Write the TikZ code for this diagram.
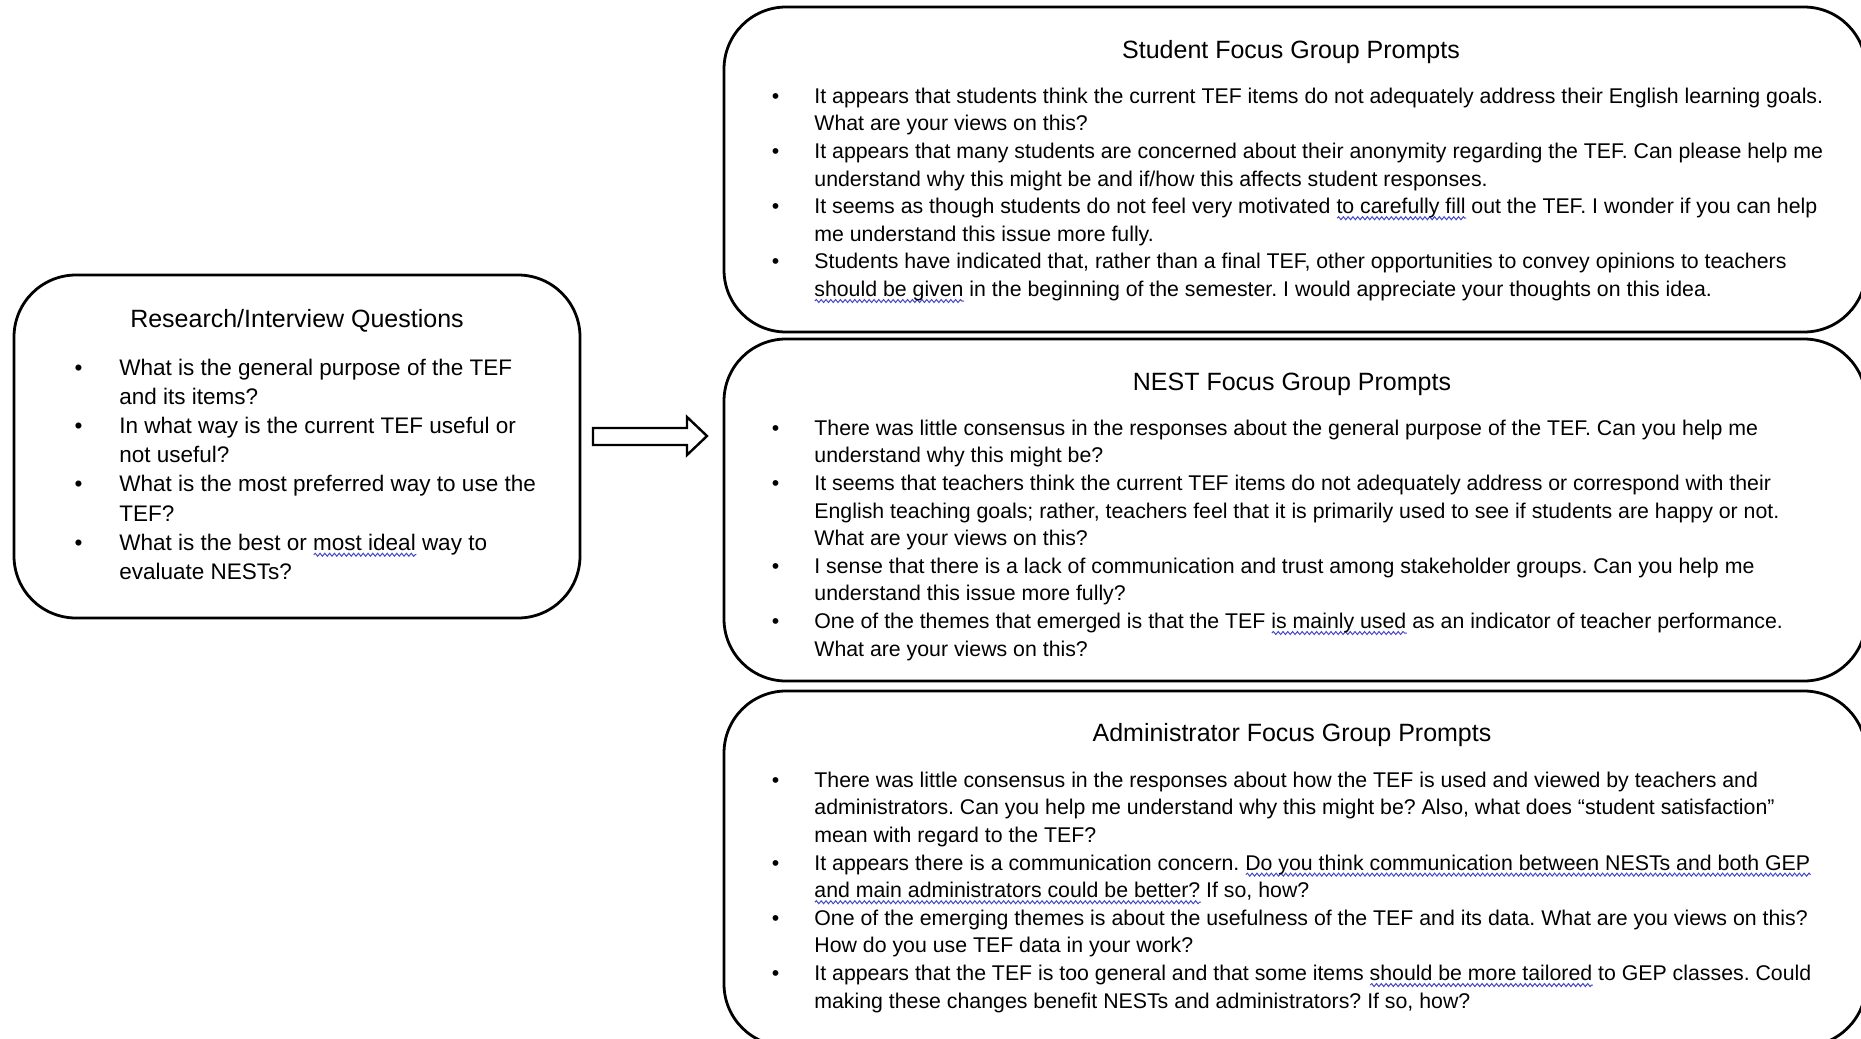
\documentclass[tikz,border=0pt]{standalone}
\usepackage{fontspec}
\setmainfont{Liberation Sans}
\usetikzlibrary{decorations.pathmorphing}
\definecolor{sqblue}{RGB}{70,70,200}
\tikzset{
  box/.style={draw, line width=1.4pt, rounded corners=31pt, inner sep=0pt},
  ttl/.style={anchor=base, inner sep=0pt, font=\fontsize{12.5}{15}\selectfont},
  rlist/.style={anchor=north west, inner sep=0pt, align=left, font=\fontsize{10.65}{13.8}\selectfont\frenchspacing},
  llist/.style={anchor=north west, inner sep=0pt, align=left, font=\fontsize{11.25}{14.57}\selectfont\frenchspacing},
  squigline/.style={draw=sqblue, line width=0.5pt, decorate, decoration={snake, amplitude=0.75pt, segment length=2.4pt}},
  blockarrow/.style={draw, line width=1.2pt, line join=miter},
}
\newlength\sqlen
\newcommand\squig[1]{\settowidth\sqlen{#1}\rlap{\tikz[baseline=0pt]\draw[squigline] (0pt,-2.3pt) -- (\sqlen,-2.3pt);}#1}
\newcommand\lb{\llap{\textbullet\hspace{18.5pt}}}
\newcommand\rb{\llap{\textbullet\hspace{17.6pt}}}
\begin{document}
\begin{tikzpicture}[x=0.5pt,y=-0.5pt]
\useasboundingbox (0,0) rectangle (1861,1038);
\clip (0,0) rectangle (1861,1038);
% boxes
\node[box, minimum width=283pt, minimum height=171.5pt] (lbox) at (297,446.5) {};
\node[box, minimum width=571pt, minimum height=162.5pt] (sbox) at (1295,169.5) {};
\node[box, minimum width=571pt, minimum height=171pt] (nbox) at (1295,510) {};
\node[box, minimum width=571pt, minimum height=177.5pt] (abox) at (1295,868.5) {};
% arrow
\draw[blockarrow] (593,428) -- (687,428) -- (687,417) -- (707,436) -- (687,455) -- (687,445) -- (593,445) -- cycle;
% titles
\node[ttl] (lt) at (297,327.5) {Research/Interview Questions};
\node[ttl] (st) at (1291,58.5) {Student Focus Group Prompts};
\node[ttl] (nt) at (1292,390.5) {NEST Focus Group Prompts};
\node[ttl] (at) at (1292,741.5) {Administrator Focus Group Prompts};
% lists
\node[llist] (lq) at (119,354.5) {\strut\lb What is the general purpose of the TEF\\
and its items?\\
\lb In what way is the current TEF useful or\\
not useful?\\
\lb What is the most preferred way to use the\\
TEF?\\
\lb What is the best or \squig{most ideal} way to\\
evaluate NESTs?};
\node[rlist] (sq) at (814,83.5) {\strut\rb It appears that students think the current TEF items do not adequately address their English learning goals.\\
What are your views on this?\\
\rb It appears that many students are concerned about their anonymity regarding the TEF. Can please help me\\
understand why this might be and if/how this affects student responses.\\
\rb It seems as though students do not feel very motivated \squig{to carefully fill} out the TEF. I wonder if you can help\\
me understand this issue more fully.\\
\rb Students have indicated that, rather than a final TEF, other opportunities to convey opinions to teachers\\
\squig{should be given} in the beginning of the semester. I would appreciate your thoughts on this idea.};
\node[rlist] (nq) at (814,415.5) {\strut\rb There was little consensus in the responses about the general purpose of the TEF. Can you help me\\
understand why this might be?\\
\rb It seems that teachers think the current TEF items do not adequately address or correspond with their\\
English teaching goals; rather, teachers feel that it is primarily used to see if students are happy or not.\\
What are your views on this?\\
\rb I sense that there is a lack of communication and trust among stakeholder groups. Can you help me\\
understand this issue more fully?\\
\rb One of the themes that emerged is that the TEF \squig{is mainly used} as an indicator of teacher performance.\\
What are your views on this?};
\node[rlist] (aq) at (814,767.5) {\strut\rb There was little consensus in the responses about how the TEF is used and viewed by teachers and\\
administrators. Can you help me understand why this might be? Also, what does “student satisfaction”\\
mean with regard to the TEF?\\
\rb It appears there is a communication concern. \squig{Do you think communication between NESTs and both GEP}\\
\squig{and main administrators could be better?} If so, how?\\
\rb One of the emerging themes is about the usefulness of the TEF and its data. What are you views on this?\\
How do you use TEF data in your work?\\
\rb It appears that the TEF is too general and that some items \squig{should be more tailored} to GEP classes. Could\\
making these changes benefit NESTs and administrators? If so, how?};
\end{tikzpicture}
\end{document}
